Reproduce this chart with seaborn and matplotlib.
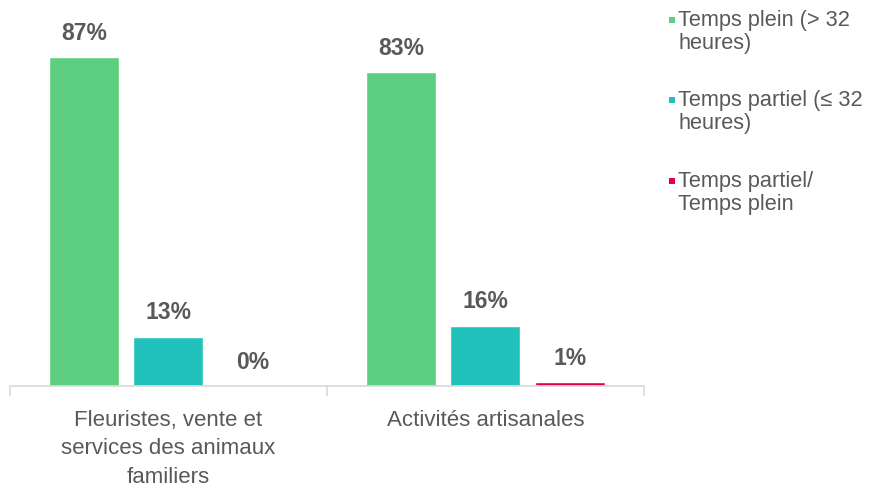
import matplotlib.pyplot as plt
import pandas as pd
import seaborn as sns
from matplotlib.patches import Rectangle

# data
categories = ["Fleuristes, vente et\nservices des animaux\nfamiliers", "Activités artisanales"]
series = ["Temps plein (> 32\nheures)", "Temps partiel (≤ 32\nheures)", "Temps partiel/\nTemps plein"]
temps_plein = [87, 83]
temps_partiel = [13, 16]
partiel_plein = [0, 1]

colors = ["#5ECF80", "#20C2BB", "#E3004F"]
grey = "#595959"

df = pd.DataFrame({
    "categorie": categories * 3,
    "type": [series[0]] * 2 + [series[1]] * 2 + [series[2]] * 2,
    "valeur": temps_plein + temps_partiel + partiel_plein,
})

sns.set_theme(style="white")
plt.rcParams["font.family"] = ["Liberation Sans", "DejaVu Sans"]

fig = plt.figure(figsize=(8.71, 4.91), dpi=100)
ax = fig.add_axes([0.0115, 0.2138, 0.7275, 0.77])

sns.barplot(
    data=df, x="categorie", y="valeur", hue="type", palette=colors,
    saturation=1, width=0.8, gap=0.17, legend=False, ax=ax,
)

for cont in ax.containers:
    ax.bar_label(cont, fmt="%.0f%%", padding=9, fontsize=16.5,
                 fontweight="bold", color=grey)

ax.set_xlim(-0.5, 1.5)
ax.set_ylim(0, 100)
ax.set_xlabel("")
ax.set_ylabel("")
ax.set_yticks([])
for side in ["left", "right", "top"]:
    ax.spines[side].set_visible(False)
ax.spines["bottom"].set_color("#D9D9D9")
ax.spines["bottom"].set_linewidth(1.2)

ax.set_xticks([-0.5, 0.5, 1.5], minor=True)
ax.tick_params(axis="x", which="minor", length=7, width=1.2, color="#D9D9D9", bottom=True)
ax.tick_params(axis="x", which="major", length=0, pad=17, labelsize=16, labelcolor=grey)
for lbl in ax.get_xticklabels():
    lbl.set_linespacing(1.48)
    lbl.set_verticalalignment("top")

# legend drawn by hand so the marker sits on the first line
legend_y = [20, 100, 181]
for name, col, y in zip(series, colors, legend_y):
    fig.add_artist(Rectangle((669 / 871, 1 - (y + 3) / 491), 6 / 871, 6 / 491,
                             transform=fig.transFigure, color=col, lw=0))
    fig.text(678 / 871, 1 - (y - 10) / 491, name, fontsize=15.7, color=grey,
             va="top", ha="left", linespacing=1.12)

fig.savefig("out.png", dpi=100)
